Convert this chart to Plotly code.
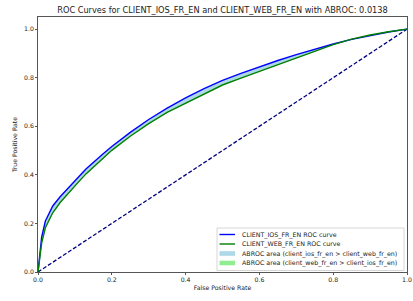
import numpy as np
import plotly.graph_objects as go

# ---- data ----
fpr = [0, 0.005, 0.01, 0.02, 0.04, 0.06, 0.085, 0.11, 0.13, 0.175, 0.2, 0.25, 0.3, 0.35,
       0.4, 0.45, 0.5, 0.55, 0.6, 0.65, 0.7, 0.75, 0.8, 0.85, 0.9, 0.95, 1.0]
tpr_ios = [0, 0.09, 0.145, 0.21, 0.272, 0.31, 0.352, 0.393, 0.424, 0.485, 0.517, 0.575, 0.628, 0.675,
           0.717, 0.755, 0.789, 0.818, 0.845, 0.871, 0.895, 0.918, 0.939, 0.958, 0.974, 0.988, 1.0]
tpr_web = [0, 0.072, 0.12, 0.182, 0.244, 0.286, 0.330, 0.371, 0.404, 0.468, 0.501, 0.559, 0.611, 0.657,
           0.695, 0.735, 0.770, 0.798, 0.825, 0.853, 0.880, 0.909, 0.936, 0.959, 0.976, 0.989, 1.0]
diag = [0, 1]
abroc = 0.0138
names = ["CLIENT_IOS_FR_EN", "CLIENT_WEB_FR_EN"]
legend_labels = [
    "CLIENT_IOS_FR_EN ROC curve",
    "CLIENT_WEB_FR_EN ROC curve",
    "ABROC area (client_ios_fr_en > client_web_fr_en)",
    "ABROC area (client_web_fr_en > client_ios_fr_en)",
]
xticks = [0.0, 0.2, 0.4, 0.6, 0.8, 1.0]
yticks = [0.0, 0.2, 0.4, 0.6, 0.8, 1.0]

C_IOS, C_WEB, C_DIAG = "#0000ff", "#008000", "#000080"
C_FILL_IOS, C_FILL_WEB = "#add8e6", "#90ee90"

a = np.array(tpr_ios)
b = np.array(tpr_web)
upper = np.maximum(a, b)

fig = go.Figure()
# area where ios > web
fig.add_trace(go.Scatter(x=fpr, y=b, mode="lines", line=dict(width=0), showlegend=False, hoverinfo="skip"))
fig.add_trace(go.Scatter(x=fpr, y=upper, mode="lines", line=dict(width=0), fill="tonexty",
                         fillcolor=C_FILL_IOS, showlegend=False, hoverinfo="skip"))
# area where web > ios
fig.add_trace(go.Scatter(x=fpr, y=a, mode="lines", line=dict(width=0), showlegend=False, hoverinfo="skip"))
fig.add_trace(go.Scatter(x=fpr, y=upper, mode="lines", line=dict(width=0), fill="tonexty",
                         fillcolor=C_FILL_WEB, showlegend=False, hoverinfo="skip"))
# diagonal
fig.add_trace(go.Scatter(x=diag, y=diag, mode="lines", line=dict(color=C_DIAG, width=1.3, dash="4px,2px"),
                         showlegend=False))
fig.add_trace(go.Scatter(x=fpr, y=tpr_ios, mode="lines", line=dict(color=C_IOS, width=1.4), showlegend=False))
fig.add_trace(go.Scatter(x=fpr, y=tpr_web, mode="lines", line=dict(color=C_WEB, width=1.4), showlegend=False))

# ---- geometry (pixels) ----
W, H = 413, 301
L, R, T, B = 38, 407, 17, 272


def xp(px):
    return (px - L) / (R - L)


def yp(py):
    return (B - py) / (B - T)


# ---- custom legend (matplotlib-like) ----
shapes = []
annotations = []
shapes.append(dict(type="rect", xref="paper", yref="paper", x0=xp(217), x1=xp(404), y0=yp(270.5), y1=yp(228),
                   line=dict(color="#cccccc", width=0.8), fillcolor="rgba(255,255,255,0.8)", layer="above"))
rows = [234.5, 244, 253.5, 263]
for i, (lab, py) in enumerate(zip(legend_labels, rows)):
    if i == 0:
        shapes.append(dict(type="line", xref="paper", yref="paper", x0=xp(219.5), x1=xp(235), y0=yp(py), y1=yp(py),
                           line=dict(color=C_IOS, width=1.4), layer="above"))
    elif i == 1:
        shapes.append(dict(type="line", xref="paper", yref="paper", x0=xp(219.5), x1=xp(235), y0=yp(py), y1=yp(py),
                           line=dict(color=C_WEB, width=1.4), layer="above"))
    else:
        col = C_FILL_IOS if i == 2 else C_FILL_WEB
        shapes.append(dict(type="rect", xref="paper", yref="paper", x0=xp(219.5), x1=xp(235),
                           y0=yp(py + 2.3), y1=yp(py - 2.3), line=dict(width=0), fillcolor=col, layer="above"))
    annotations.append(dict(text=lab, xref="paper", yref="paper", x=xp(239.5), y=yp(py), xanchor="left",
                            yanchor="middle", showarrow=False, font=dict(size=6.3, color="#222")))

FONT = "DejaVu Sans, Liberation Sans, sans-serif"
fig.update_layout(
    width=W, height=H,
    margin=dict(l=L, r=W - R, t=T, b=H - B, pad=0, autoexpand=False),
    paper_bgcolor="white", plot_bgcolor="white",
    font=dict(family=FONT, size=6.2, color="#222"),
    title=dict(text=f"ROC Curves for {names[0]} and {names[1]} with ABROC: {abroc:.4f}",
               x=xp((L + R) / 2), xanchor="center", xref="paper", y=1 - 10 / H, yanchor="middle",
               font=dict(size=8.2, color="#222"), automargin=False),
    xaxis=dict(range=[0, 1], tickvals=xticks, ticktext=[f"{v:.1f}" for v in xticks], automargin=False,
               showgrid=False, zeroline=False, showline=True, linecolor="#555", linewidth=0.8, mirror=True,
               ticks="outside", ticklen=2, tickwidth=0.7, tickcolor="#555",
               tickfont=dict(size=6.2, color="#222"),
               title=dict(text="False Positive Rate", font=dict(size=6.2, color="#222"), standoff=3)),
    yaxis=dict(range=[0, 1.05], tickvals=yticks, ticktext=[f"{v:.1f}" for v in yticks], automargin=False,
               showgrid=False, zeroline=False, showline=True, linecolor="#555", linewidth=0.8, mirror=True,
               ticks="outside", ticklen=2, tickwidth=0.7, tickcolor="#555",
               tickfont=dict(size=6.2, color="#222"),
               title=dict(text="True Positive Rate", font=dict(size=6.2, color="#222"), standoff=5)),
    shapes=shapes,
    annotations=annotations,
    showlegend=False,
)

fig.write_html("out.html", config={"displayModeBar": False},
               post_script="document.body.style.margin='0';document.body.style.overflow='hidden';")
